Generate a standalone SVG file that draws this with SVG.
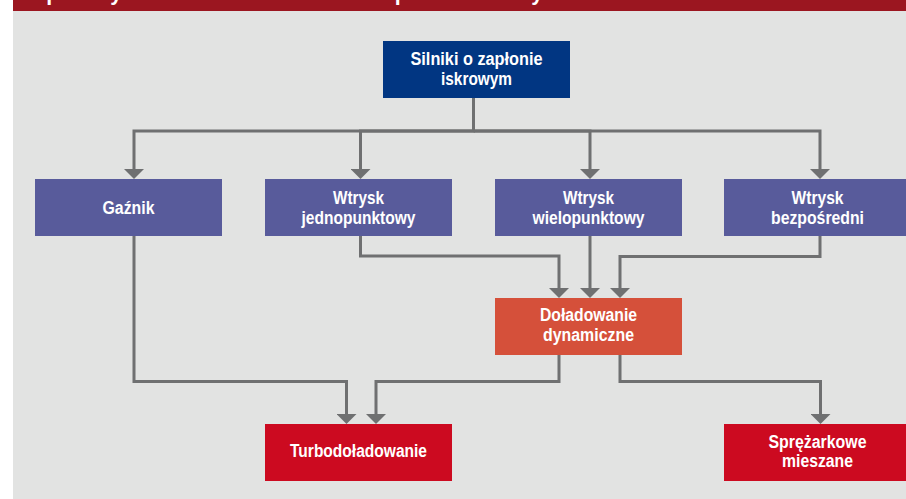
<svg xmlns="http://www.w3.org/2000/svg" width="906" height="499" viewBox="0 0 906 499">
  <style>
    .bg { fill: #e2e3e2; }
    .hdr { fill: #9b1620; }
    .title { font-family: "Liberation Sans", Arial, sans-serif; font-weight: bold; font-size: 22px; fill: #ffffff; }
    .lbl { font-family: "Liberation Sans", Arial, sans-serif; font-weight: bold; font-size: 18px; fill: #ffffff; text-anchor: middle; }
    .navy { fill: #013682; }
    .violet { fill: #585b9b; }
    .orange { fill: #d5503a; }
    .red { fill: #cc0a20; }
    .conn { fill: none; stroke: #6f7071; stroke-width: 3; stroke-linejoin: miter; }
  </style>
  <defs>
    <marker id="arrow" viewBox="0 0 10 20" refX="7" refY="10" markerWidth="10" markerHeight="20" markerUnits="userSpaceOnUse" orient="auto">
      <path d="M0,0 L10,10 L0,20 Z" fill="#6f7071"/>
    </marker>
  </defs>

  <rect x="0" y="0" width="906" height="499" fill="#ffffff"/>
  <rect class="bg" x="13" y="11" width="893" height="488"/>
  <rect class="hdr" x="13" y="0" width="893" height="11"/>
  <text class="title" x="32" y="0" textLength="530" lengthAdjust="spacingAndGlyphs">Sposoby doładowania silników o zapłonie iskrowym</text>

  <g id="connectors">
    <path class="conn" d="M473.5,98 V131 H134 V176" marker-end="url(#arrow)"/>
    <path class="conn" d="M473.5,131 H360.5 V176" marker-end="url(#arrow)"/>
    <path class="conn" d="M473.5,131 H590 V176" marker-end="url(#arrow)"/>
    <path class="conn" d="M473.5,131 H820 V176" marker-end="url(#arrow)"/>
    <path class="conn" d="M360.5,236 V256 H559 V295" marker-end="url(#arrow)"/>
    <path class="conn" d="M590,236 V295" marker-end="url(#arrow)"/>
    <path class="conn" d="M820,236 V256.5 H620 V295" marker-end="url(#arrow)"/>
    <path class="conn" d="M134,236 V381.5 H346.5 V421" marker-end="url(#arrow)"/>
    <path class="conn" d="M559,355 V381.5 H376 V421" marker-end="url(#arrow)"/>
    <path class="conn" d="M620,355 V381.5 H820.5 V421" marker-end="url(#arrow)"/>
  </g>

  <g id="silniki">
    <rect class="navy" x="383" y="41" width="187" height="57"/>
    <text class="lbl" x="476.5" y="64.5" textLength="132" lengthAdjust="spacingAndGlyphs">Silniki o zapłonie</text>
    <text class="lbl" x="476.5" y="84.5" textLength="71" lengthAdjust="spacingAndGlyphs">iskrowym</text>
  </g>

  <g id="gaznik">
    <rect class="violet" x="35" y="179" width="187" height="57"/>
    <text class="lbl" x="128.5" y="214" textLength="52" lengthAdjust="spacingAndGlyphs">Gaźnik</text>
  </g>

  <g id="wtrysk-jednopunktowy">
    <rect class="violet" x="265" y="179" width="187" height="57"/>
    <text class="lbl" x="358.5" y="203.5" textLength="51" lengthAdjust="spacingAndGlyphs">Wtrysk</text>
    <text class="lbl" x="358.5" y="223.5" textLength="114" lengthAdjust="spacingAndGlyphs">jednopunktowy</text>
  </g>

  <g id="wtrysk-wielopunktowy">
    <rect class="violet" x="495" y="179" width="187" height="57"/>
    <text class="lbl" x="588.5" y="203.5" textLength="51" lengthAdjust="spacingAndGlyphs">Wtrysk</text>
    <text class="lbl" x="588.5" y="223.5" textLength="112" lengthAdjust="spacingAndGlyphs">wielopunktowy</text>
  </g>

  <g id="wtrysk-bezposredni">
    <rect class="violet" x="724" y="179" width="187" height="57"/>
    <text class="lbl" x="817.5" y="203.5" textLength="52" lengthAdjust="spacingAndGlyphs">Wtrysk</text>
    <text class="lbl" x="817.5" y="223.5" textLength="93" lengthAdjust="spacingAndGlyphs">bezpośredni</text>
  </g>

  <g id="doladowanie-dynamiczne">
    <rect class="orange" x="495" y="298" width="187" height="57"/>
    <text class="lbl" x="588.5" y="321" textLength="97" lengthAdjust="spacingAndGlyphs">Doładowanie</text>
    <text class="lbl" x="588.5" y="340.5" textLength="91" lengthAdjust="spacingAndGlyphs">dynamiczne</text>
  </g>

  <g id="turbodoladowanie">
    <rect class="red" x="265" y="424" width="187" height="57"/>
    <text class="lbl" x="358.5" y="456.5" textLength="137" lengthAdjust="spacingAndGlyphs">Turbodoładowanie</text>
  </g>

  <g id="sprezarkowe-mieszane">
    <rect class="red" x="724" y="424" width="187" height="57"/>
    <text class="lbl" x="817.5" y="447.5" textLength="98" lengthAdjust="spacingAndGlyphs">Sprężarkowe</text>
    <text class="lbl" x="817.5" y="467" textLength="71" lengthAdjust="spacingAndGlyphs">mieszane</text>
  </g>
</svg>
